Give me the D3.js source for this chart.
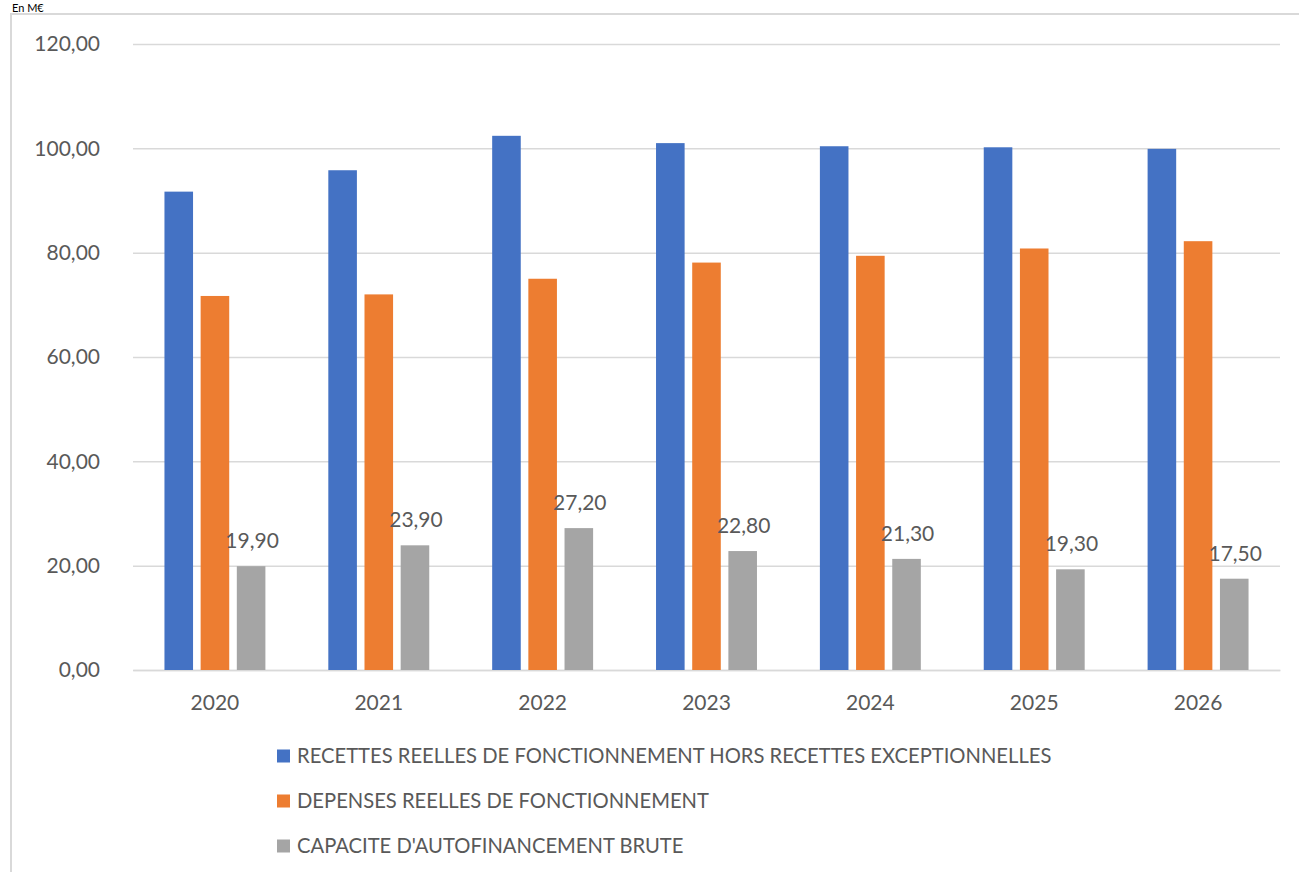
<!DOCTYPE html>
<html>
<head>
<meta charset="utf-8">
<script src="https://cdn.jsdelivr.net/npm/d3@7"></script>
<style>
  html, body { margin: 0; padding: 0; background: #fff; }
  svg { display: block; }
  text { font-family: Lato, "Open Sans", sans-serif; fill: #595959; }
</style>
</head>
<body>
<svg id="chart" width="1299" height="872"></svg>
<script>
const years = ["2020", "2021", "2022", "2023", "2024", "2025", "2026"];
const seriesNames = [
  "RECETTES REELLES DE FONCTIONNEMENT HORS RECETTES EXCEPTIONNELLES",
  "DEPENSES REELLES DE FONCTIONNEMENT",
  "CAPACITE D'AUTOFINANCEMENT BRUTE"
];
const recettes = [91.7, 95.8, 102.4, 101.0, 100.4, 100.2, 99.9];
const depenses = [71.7, 72.0, 75.0, 78.1, 79.4, 80.8, 82.2];
const caf = [19.9, 23.9, 27.2, 22.8, 21.3, 19.3, 17.5];
const colors = ["#4472C4", "#ED7D31", "#A5A5A5"];
const yTicks = [0, 20, 40, 60, 80, 100, 120];
const unitLabel = "En M€";

const seriesValues = [recettes, depenses, caf];
const fmt = v => d3.format(".2f")(v).replace(".", ",");

const svg = d3.select("#chart");
const margin = { left: 133, right: 19, top: 44, bottom: 202 };
const W = 1299, H = 872;

// frame
svg.append("rect")
  .attr("x", 11).attr("y", 14)
  .attr("width", W + 10).attr("height", H + 10)
  .attr("fill", "none").attr("stroke", "#d9d9d9").attr("stroke-width", 2);

svg.append("text").attr("x", 12).attr("y", 12)
  .style("font-size", "11px").style("fill", "#000").text(unitLabel);

const x0 = d3.scaleBand().domain(years)
  .range([margin.left, W - margin.right])
  .paddingInner(0.384).paddingOuter(0.192);
const x1 = d3.scaleBand().domain(d3.range(3))
  .range([0, x0.bandwidth()]).paddingInner(0.21);
const y = d3.scaleLinear().domain([0, 120]).range([H - margin.bottom, margin.top]);

// grid
const yAxis = d3.axisLeft(y).tickValues(yTicks).tickFormat(fmt)
  .tickSize(-(W - margin.right - margin.left)).tickPadding(33);
const gy = svg.append("g").attr("transform", `translate(${margin.left},0)`).call(yAxis);
gy.select(".domain").remove();
gy.selectAll(".tick line").attr("stroke", "#d9d9d9").attr("stroke-width", 1.5);
gy.selectAll(".tick text").style("font-size", "21px").attr("fill", "#595959");

// x axis
const xAxis = d3.axisBottom(x0).tickSize(0).tickPadding(25);
const gx = svg.append("g").attr("transform", `translate(0,${y(0)})`).call(xAxis);
gx.select(".domain").attr("stroke", "#d9d9d9").attr("stroke-width", 1.5);
gx.selectAll(".tick text").style("font-size", "21px").attr("fill", "#595959");

// bars
const groups = svg.append("g").selectAll("g").data(years).join("g")
  .attr("transform", d => `translate(${x0(d)},0)`);
groups.selectAll("rect")
  .data((d, i) => seriesValues.map((s, k) => ({ k, v: s[i] })))
  .join("rect")
  .attr("x", d => x1(d.k))
  .attr("width", x1.bandwidth())
  .attr("y", d => y(d.v))
  .attr("height", d => y(0) - y(d.v))
  .attr("fill", d => colors[d.k]);

// data labels for CAF
groups.append("text")
  .attr("x", (d, i) => x1(2) + x1.bandwidth() / 2 + 1)
  .attr("y", (d, i) => y(caf[i]) - 18)
  .attr("text-anchor", "middle")
  .style("font-size", "21px")
  .text((d, i) => fmt(caf[i]));

// legend
const legend = svg.append("g").selectAll("g").data(seriesNames).join("g")
  .attr("transform", (d, i) => `translate(277,${756 + i * 45})`);
legend.append("rect").attr("x", 0).attr("y", -6.5).attr("width", 13).attr("height", 13)
  .attr("fill", (d, i) => colors[i]);
legend.append("text").attr("x", 20).attr("y", 0).attr("dy", "0.35em")
  .style("font-size", "20.2px").text(d => d);
</script>
</body>
</html>
